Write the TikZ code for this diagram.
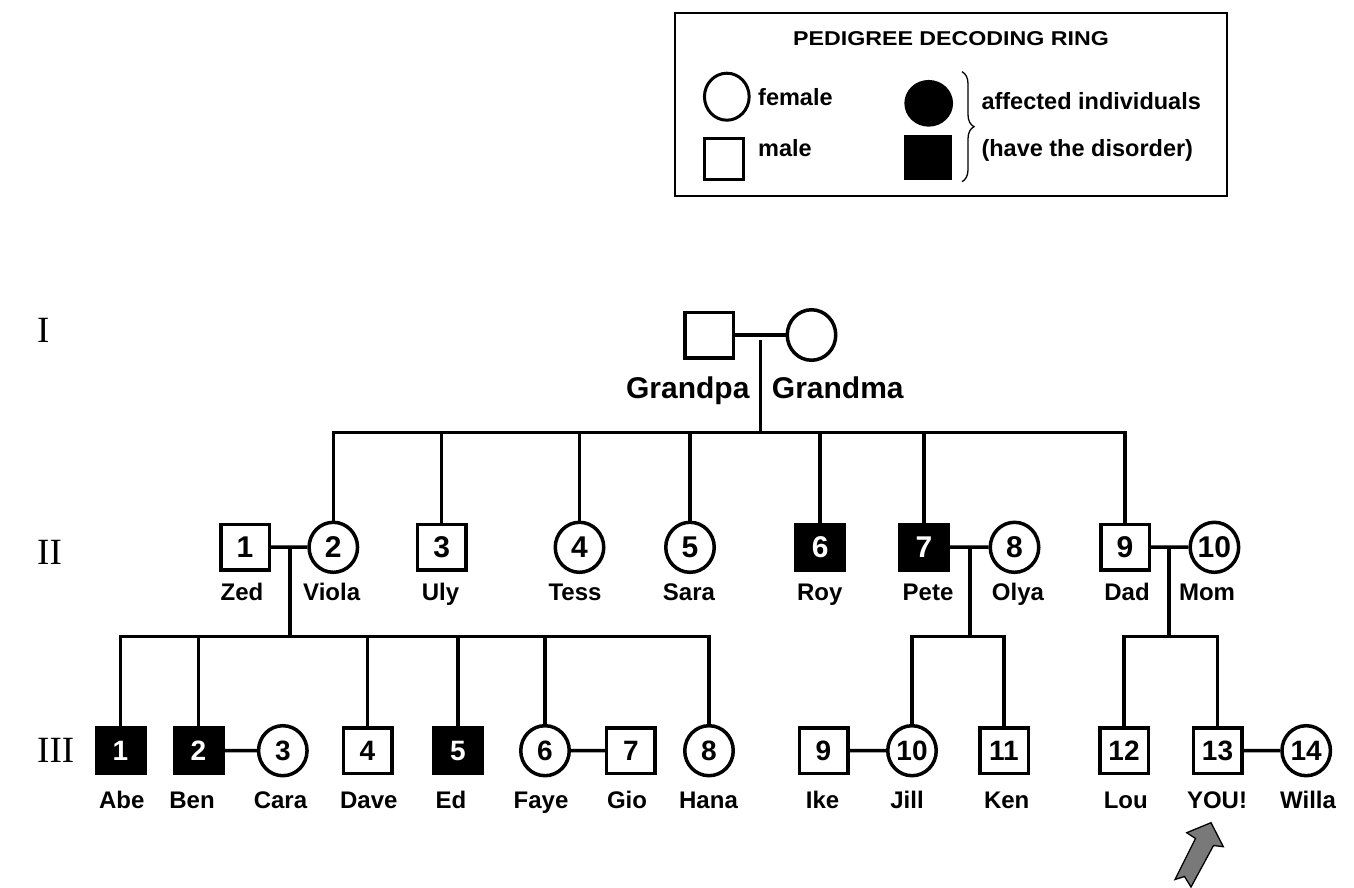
\documentclass[tikz,border=0pt]{standalone}
\usepackage{fontspec}
\setmainfont{Liberation Sans}
\newfontfamily\romanfont{Liberation Serif}
\usetikzlibrary{shapes.geometric,decorations.pathreplacing}
\begin{document}
\begin{tikzpicture}[x=1pt,y=-1pt,
  pline/.style={line width=3.5pt},
  male/.style={rectangle, draw, line width=3.5pt, minimum width=48.5pt, minimum height=45.5pt, inner sep=0pt},
  female/.style={ellipse, draw, line width=3.5pt, minimum width=48.5pt, minimum height=50pt, inner sep=0pt},
  aff/.style={fill=black, text=white},
  numII/.style={font=\fontsize{30}{30}\selectfont\bfseries},
  numIII/.style={font=\fontsize{28}{28}\selectfont\bfseries},
  nm/.style={anchor=base, inner sep=0pt, font=\fontsize{24}{24}\selectfont\bfseries},
  gnm/.style={anchor=base, inner sep=0pt, font=\fontsize{30}{30}\selectfont\bfseries},
  gen/.style={anchor=base west, inner sep=0pt, font=\fontsize{37}{37}\selectfont\romanfont},
  leg/.style={anchor=base west, inner sep=0pt, font=\fontsize{23.5}{23.5}\selectfont\bfseries},
  legsym/.style={line width=3pt, inner sep=0pt},
]
\useasboundingbox (0,0) rectangle (1354,888);

% ---------------- Legend ----------------
\draw[line width=2pt] (675,13) rectangle (1227,196);
\node[anchor=base, inner sep=0pt, font=\fontsize{20}{20}\selectfont\bfseries] (title) at (951,45.7)
  {\scalebox{1.16}[1]{PEDIGREE DECODING RING}};
\node[legsym, ellipse, draw, minimum width=44.7pt, minimum height=47pt] (lf) at (726.8,96.7) {};
\node[legsym, rectangle, draw, minimum width=38.7pt, minimum height=41pt] (lm) at (724,158.7) {};
\node[leg] (tf) at (758,105.7) {female};
\node[leg] (tm) at (758,156.7) {male};
\node[ellipse, fill=black, inner sep=0pt, minimum width=48.7pt, minimum height=46.7pt] (laf) at (928.7,103.3) {};
\node[rectangle, fill=black, inner sep=0pt, minimum width=47.7pt, minimum height=45pt] (lam) at (928,157.5) {};
\draw[line width=1.3pt, decorate, decoration={brace, amplitude=12pt}] (962,71.7) -- (962,181.7);
\node[leg] (ta) at (981.3,110) {affected individuals};
\node[leg] (th) at (981.3,156.7) {(have the disorder)};

% ---------------- Generation labels ----------------
\node[gen] (gI) at (37,342) {I};
\node[gen] (gII) at (37,564) {II};
\node[gen] (gIII) at (37,762) {III};

% ---------------- Generation I ----------------
\node[male] (gpa) at (709.2,335) {};
\node[female, minimum height=50.5pt] (gma) at (811.5,335) {};
\draw[pline] (gpa) -- (gma);
\coordinate (m0) at (760.7,340);
\coordinate (s0) at (760.7,432.7);
\draw[pline] (m0) -- (s0);
\node[gnm] (ngpa) at (687.8,398) {Grandpa};
\node[gnm] (ngma) at (837.8,398) {Grandma};

% ---------------- Generation II ----------------
\node[male, numII] (zed) at (245,547) {1};
\node[female, numII] (viola) at (333.3,547.3) {2};
\node[male, numII] (uly) at (441.7,547) {3};
\node[female, numII] (tess) at (579.5,547.3) {4};
\node[female, numII] (sara) at (690,547.3) {5};
\node[male, aff, numII] (roy) at (820.2,547) {6};
\node[male, aff, numII] (pete) at (924,547) {7};
\node[female, numII] (olya) at (1014.5,547.3) {8};
\node[male, numII] (dad) at (1125,547) {9};
\node[female, numII] (mom) at (1214.4,547.3) {10};

\draw[pline] (viola.north) |- (s0);
\draw[pline] (dad.north) |- (s0);
\foreach \k in {uly,tess,sara,roy,pete} \draw[pline] (\k.north) -- (\k.north |- s0);

\draw[pline] (zed) -- (viola);
\draw[pline] (pete) -- (olya);
\draw[pline] (dad) -- (mom);

\node[nm] (nzed) at (242,600) {Zed};
\node[nm] (nviola) at (331.7,600) {Viola};
\node[nm] (nuly) at (440.5,600) {Uly};
\node[nm] (ntess) at (575,600) {Tess};
\node[nm] (nsara) at (689,600) {Sara};
\node[nm] (nroy) at (819.7,600) {Roy};
\node[nm] (npete) at (928,600) {Pete};
\node[nm] (nolya) at (1018,600) {Olya};
\node[nm] (ndad) at (1127,600) {Dad};
\node[nm] (nmom) at (1207,600) {Mom};

% descent lines from couples
\coordinate (m1) at (290,547);
\coordinate (s1) at (290,636.7);
\coordinate (m2) at (970,547);
\coordinate (s2) at (970,636.7);
\coordinate (m3) at (1169,547);
\coordinate (s3) at (1169,636.7);
\draw[pline] (m1) -- (s1);
\draw[pline] (m2) -- (s2);
\draw[pline] (m3) -- (s3);

% ---------------- Generation III ----------------
\node[male, aff, numIII] (abe) at (120.5,750.5) {1};
\node[male, aff, numIII] (ben) at (198.5,750.5) {2};
\node[female, numIII] (cara) at (282.8,750.7) {3};
\node[male, numIII] (dave) at (367.5,750.5) {4};
\node[male, aff, numIII] (ed) at (458,750.5) {5};
\node[female, numIII] (faye) at (545,750.7) {6};
\node[male, numIII] (gio) at (630.8,750.5) {7};
\node[female, numIII] (hana) at (709,750.7) {8};
\node[male, numIII] (ike) at (823.5,750.5) {9};
\node[female, numIII] (jill) at (912,750.7) {10};
\node[male, numIII] (ken) at (1004,750.5) {11};
\node[male, numIII] (lou) at (1124,750.5) {12};
\node[male, numIII] (you) at (1217.5,750.5) {13};
\node[female, numIII] (willa) at (1306.2,750.7) {14};

\draw[pline] (abe.north) |- (s1);
\draw[pline] (hana.north) |- (s1);
\foreach \k in {ben,dave,ed,faye} \draw[pline] (\k.north) -- (\k.north |- s1);
\draw[pline] (jill.north) |- (s2);
\draw[pline] (ken.north) |- (s2);
\draw[pline] (lou.north) |- (s3);
\draw[pline] (you.north) |- (s3);

\draw[pline] (ben) -- (cara);
\draw[pline] (faye) -- (gio);
\draw[pline] (ike) -- (jill);
\draw[pline] (you) -- (willa);

\node[nm] (nabe) at (121.7,808.3) {Abe};
\node[nm] (nben) at (192,808.3) {Ben};
\node[nm] (ncara) at (280.5,808.3) {Cara};
\node[nm] (ndave) at (368.8,808.3) {Dave};
\node[nm] (ned) at (451,808.3) {Ed};
\node[nm] (nfaye) at (541,808.3) {Faye};
\node[nm] (ngio) at (627,808.3) {Gio};
\node[nm] (nhana) at (708.5,808.3) {Hana};
\node[nm] (nike) at (822.5,808.3) {Ike};
\node[nm] (njill) at (907,808.3) {Jill};
\node[nm] (nken) at (1006.7,808.3) {Ken};
\node[nm] (nlou) at (1125.8,808.3) {Lou};
\node[nm] (nyou) at (1217,808.3) {YOU!};
\node[nm] (nwilla) at (1308,808.3) {Willa};

% ---------------- Pointer arrow ----------------
\draw[fill=gray!95!black, line width=1.3pt, line join=miter]
  (1211,822.7) -- (1223.3,846.7) -- (1213.5,845.5) -- (1191,887) -- (1184.5,876.5)
  -- (1175,879.5) -- (1195.5,838.5) -- (1186.7,832.7) -- cycle;
\end{tikzpicture}
\end{document}
